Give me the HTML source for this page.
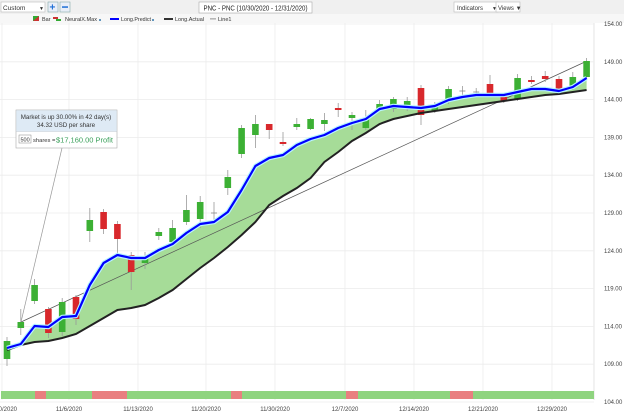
<!DOCTYPE html>
<html><head><meta charset="utf-8"><style>
body{margin:0;width:624px;height:414px;overflow:hidden;background:#fff;font-family:"Liberation Sans",sans-serif}
</style></head><body>
<svg id="s" width="624" height="414" xmlns="http://www.w3.org/2000/svg" font-family="Liberation Sans, sans-serif">
<rect x="0" y="0" width="624" height="414" fill="#fff"/>
<rect x="0" y="0" width="624" height="14" fill="#f0f0f0"/>
<rect x="0" y="14" width="624" height="9" fill="#f7f7f7"/>
<rect x="1" y="2" width="44" height="10" fill="#fff" stroke="#bbb" stroke-width="0.6"/>
<text x="3" y="10" font-size="6.5" fill="#333">Custom</text>
<text x="39" y="10" font-size="5" fill="#333">▼</text>
<rect x="48" y="2" width="10" height="10" fill="#e8eef8" stroke="#8aa" stroke-width="0.6"/>
<text x="49.5" y="10.5" font-size="10" fill="#1d6fd6" font-weight="bold">+</text>
<rect x="60" y="2" width="10" height="10" fill="#e8eef8" stroke="#8aa" stroke-width="0.6"/>
<rect x="62" y="6.3" width="6" height="1.5" fill="#1d6fd6"/>
<rect x="199" y="2" width="113" height="11" fill="#fff" stroke="#aaa" stroke-width="0.6"/>
<text x="255.5" y="10.3" font-size="7" fill="#222" text-anchor="middle" textLength="104" lengthAdjust="spacingAndGlyphs">PNC - PNC (10/30/2020 - 12/31/2020)</text>
<rect x="454" y="2" width="44" height="10" fill="#fff" stroke="#bbb" stroke-width="0.6"/>
<text x="457" y="10" font-size="6" fill="#333">Indicators</text>
<text x="492" y="10" font-size="5" fill="#333">▼</text>
<rect x="496" y="2" width="24" height="10" fill="#fff" stroke="#bbb" stroke-width="0.6"/>
<text x="498" y="10" font-size="6" fill="#333">Views ▼</text>
<g font-size="5.5" fill="#333">
<rect x="33" y="16" width="6" height="5" fill="#3a3"/><path d="M33 21 L39 16 L39 21Z" fill="#c33"/>
<text x="42" y="21">Bar</text>
<rect x="53" y="17" width="5" height="2" fill="#c33"/><rect x="56" y="19" width="5" height="2" fill="#3a3"/>
<text x="65" y="21" textLength="32" lengthAdjust="spacingAndGlyphs">NeuralX.Max</text><circle cx="100" cy="20" r="1" fill="#37a"/>
<rect x="110" y="18" width="9" height="2" fill="#00f"/><text x="121" y="21" textLength="30" lengthAdjust="spacingAndGlyphs">Long.Predict</text><circle cx="153" cy="20" r="1" fill="#37a"/>
<rect x="164" y="18" width="9" height="2" fill="#333"/><text x="175" y="21" textLength="29" lengthAdjust="spacingAndGlyphs">Long.Actual</text>
<rect x="210" y="18.5" width="6" height="0.8" fill="#777"/><text x="218" y="21">Line1</text>
</g>
<line x1="594" y1="23" x2="594" y2="400" stroke="#ddd" stroke-width="0.8"/>
<g id="grid" stroke="#ececec" stroke-width="0.8"></g>
<g id="ylab" font-size="6" fill="#444"></g>
<g id="plot"></g>
<g id="band"></g>
<g id="xlab" font-size="6" fill="#444"></g>
<g>
<line x1="62" y1="148" x2="21" y2="322" stroke="#999" stroke-width="0.7"/>
<rect x="16" y="110" width="101" height="38" fill="#fff" stroke="#aaa" stroke-width="0.6"/>
<rect x="16.3" y="110.3" width="100.4" height="21" fill="#deeaf5"/>
<line x1="16" y1="131.5" x2="117" y2="131.5" stroke="#c0c8d0" stroke-width="0.5"/>
<text x="66" y="119" font-size="6.2" fill="#333" text-anchor="middle">Market is up 30.00% in 42 day(s)</text>
<text x="66" y="127" font-size="6.2" fill="#333" text-anchor="middle">34.32 USD per share</text>
<rect x="19" y="135" width="12" height="8" fill="#fff" stroke="#888" stroke-width="0.5"/>
<text x="20.5" y="141.5" font-size="5.5" fill="#333">500</text>
<text x="33" y="142" font-size="5.8" fill="#333">shares =</text>
<text x="56" y="142.5" font-size="7.5" fill="#3aa05a" textLength="57" lengthAdjust="spacingAndGlyphs">$17,160.00 Profit</text>
</g>
</svg>
<script>
const NS="http://www.w3.org/2000/svg";
function el(p,t,a){const e=document.createElementNS(NS,t);for(const k in a)e.setAttribute(k,a[k]);p.appendChild(e);return e;}
const g=document.getElementById('grid'),yl=document.getElementById('ylab'),pl=document.getElementById('plot'),bd=document.getElementById('band'),xl=document.getElementById('xlab');
const Y=v=>402-(v-104)*7.56;
for(let v=104;v<=154;v+=5){const y=Y(v);el(g,'line',{x1:0,x2:594,y1:y,y2:y});const t=el(yl,'text',{x:604,y:y+2});t.textContent=v.toFixed(2);}
const dx=[[2,'10/30/2020'],[69,'11/6/2020'],[138,'11/13/2020'],[206,'11/20/2020'],[275,'11/30/2020'],[345,'12/7/2020'],[414,'12/14/2020'],[483,'12/21/2020'],[552,'12/29/2020']];
dx.forEach(([x,s])=>{el(g,'line',{x1:x,x2:x,y1:23,y2:400});const t=el(xl,'text',{x:x,y:411,'text-anchor':'middle'});t.textContent=s;});
const xs=i=>7+i*13.8;
const blue=[348,344,326,327,317,316,285,263,255,258,258,250,244,233,224,222,212,190,166,158,155,145,139,135,128,123,119,109,106,107,108,106,100,97,95,95,95,92,89,89,91,87,78];
const blk=[350,345,342,341,338,334,326,318,310,308,305,298,290,279,268,258,247,235,222,205,196,188,178,162,152,141,133,124,119,116,113,111,109,107,105,103,101,99,97,95,94,92,90];
let pb=blue.map((y,i)=>xs(i)+','+y).join(' '),pk=blk.map((y,i)=>xs(i)+','+y).join(' ');
let area=blue.map((y,i)=>xs(i)+','+y).concat(blk.map((y,i)=>xs(i)+','+y).reverse()).join(' ');
el(pl,'polygon',{points:area,fill:'#a6dc98',stroke:'none'});
el(pl,'line',{x1:21,y1:322,x2:587,y2:61,stroke:'#555','stroke-width':0.7});
const C=[['g',341,359,337,366],['g',322,328,309,335],['g',285,301,279,304],['r',309,333,307,338],['g',302,332,298,336],['r',297,319,295,325],['g',220,231,208,242],['r',212,229,209,234],['r',224,239,221,253],['r',255,272,252,290],['g',258,263,252,269],['g',232,236,228,240],['g',228,242,220,246],['g',210,222,195,225],['g',202,219,196,228],['x',213,213,202,222],['g',177,188,170,195],['g',128,154,125,158],['g',124,135,115,148],['r',124,130,124,139],['r',142,144,132,146],['g',124,127,118,130],['g',119,129,118,130],['g',120,124,113,131],['r',108,110,103,117],['g',115,118,112,130],['g',118,128,110,130],['g',104,109,100,111],['g',99,109,97,112],['g',101,106,97,111],['r',88,115,85,125],['g',106,111,102,113],['g',89,100,86,104],['x',91,91,86,96],['x',92,92,88,97],['r',84,94,75,96],['r',97,101,94,103],['g',78,99,74,101],['r',80,82,76,84],['r',76,79,71,82],['r',79,92,76,94],['g',77,87,72,90],['g',61,77,58,79]];
C.forEach((c,i)=>{const x=xs(i);el(pl,'line',{x1:x,x2:x,y1:c[3],y2:c[4],stroke:'#999','stroke-width':0.8});
 if(c[0]=='x'){el(pl,'line',{x1:x-3,x2:x+3,y1:c[1],y2:c[1],stroke:'#888','stroke-width':0.8});}
 else el(pl,'rect',{x:x-3.3,y:c[1],width:6.6,height:Math.max(2,c[2]-c[1]),fill:c[0]=='g'?'#3cb034':'#d8282c'});});
el(pl,'polyline',{points:pk,fill:'none',stroke:'#222','stroke-width':2});
el(pl,'polyline',{points:pb,fill:'none',stroke:'#b8f4ff','stroke-width':4.5,'stroke-linejoin':'round'});
el(pl,'polyline',{points:pb,fill:'none',stroke:'#0000ff','stroke-width':2.2,'stroke-linejoin':'round'});
el(bd,'rect',{x:1,y:391,width:593,height:8,fill:'#8fd47f'});
[[35,46],[92,127],[231,242],[346,358],[450,473]].forEach(([a,b])=>el(bd,'rect',{x:a,y:391,width:b-a,height:8,fill:'#e97f80'}));
</script>
</body></html>
